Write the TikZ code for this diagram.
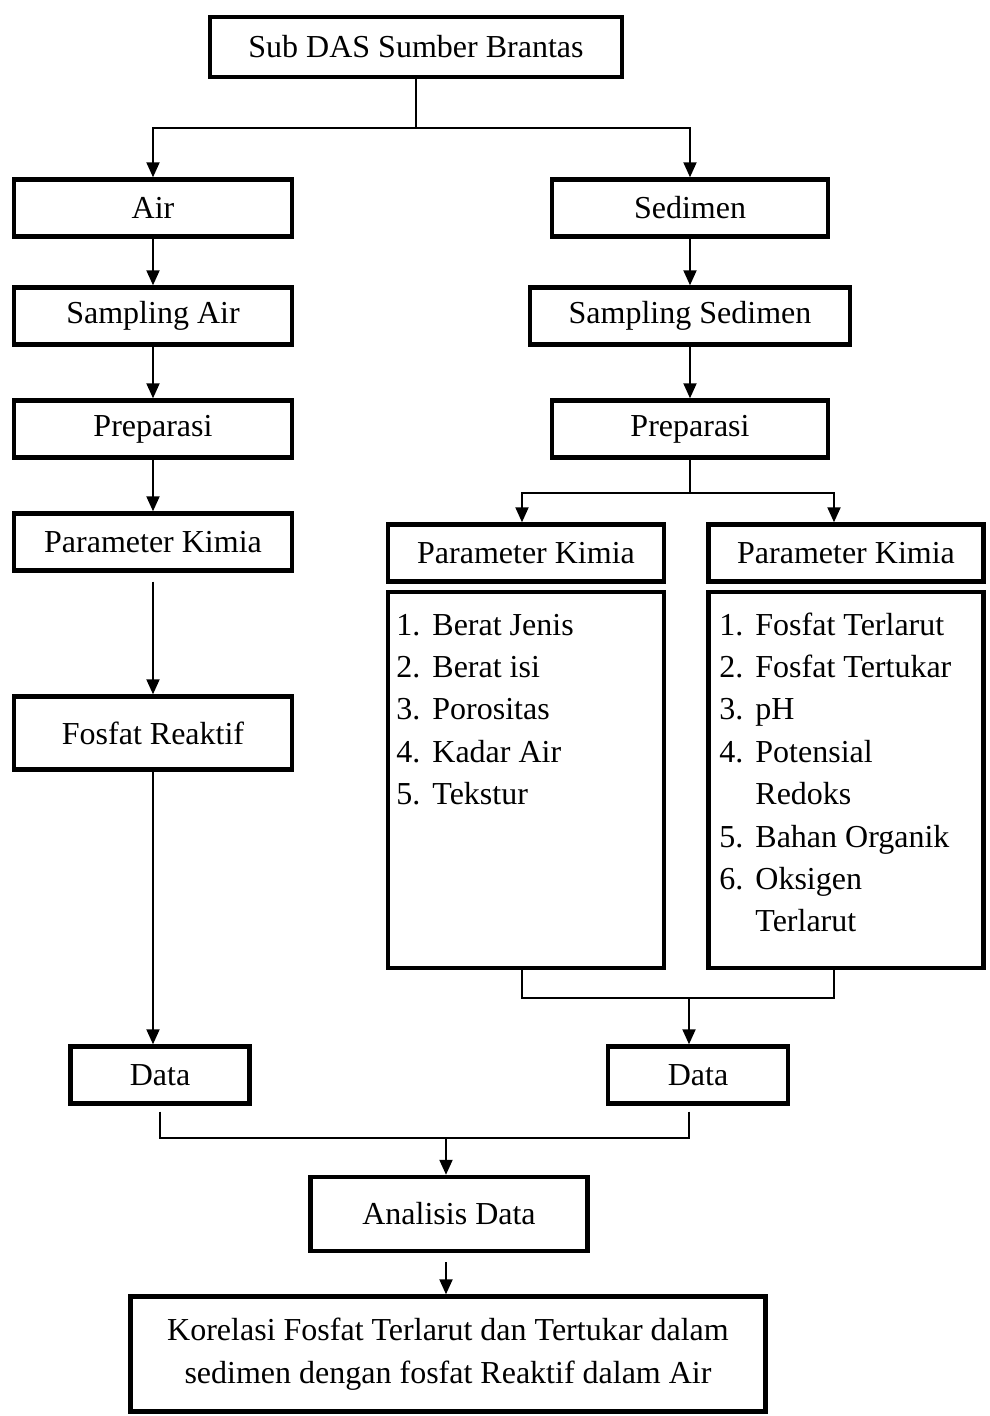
\documentclass[tikz,border=0pt]{standalone}
\usepackage{fontspec}
\setmainfont{Liberation Serif}
\usetikzlibrary{positioning, arrows.meta}

\begin{document}
\begin{tikzpicture}[x=0.5pt, y=-0.5pt, font=\fontsize{16}{21.2}\selectfont,
  proc/.style={rectangle, draw, line width=2.2pt, minimum width=139pt,
               minimum height=28.5pt, inner sep=2pt, align=center},
  flow/.style={-{Triangle[length=7.5pt, width=6.5pt]}, line width=1pt},
  link/.style={line width=1pt},
]
  \useasboundingbox (0,0) rectangle (989,1416);

  \node[proc, minimum width=206pt, minimum height=30pt] (das) at (416,47) {Sub DAS Sumber Brantas};
  \node[proc] (air) at (153,208) {Air};
  \node[proc, minimum width=138pt] (sed) at (690,208) {Sedimen};
  % kolom air
  \node[proc] (sampair) at (153,316) {Sampling Air};
  \node[proc] (prepair) at (153,429) {Preparasi};
  \node[proc] (kimair) at (153,542) {Parameter Kimia};
  \node[proc, minimum height=36.5pt] (fosfat) at (153,733) {Fosfat Reaktif};
  \node[proc, minimum width=89.5pt] (dataair) at (160,1075) {Data};
  % kolom sedimen
  \node[proc, minimum width=160pt] (sampsed) at (690,316) {Sampling Sedimen};
  \node[proc, minimum width=138pt] (prepsed) at (690,429) {Preparasi};
  \node[proc, minimum width=138pt] (kimfis) at (526,553) {Parameter Kimia};
  \node[proc, minimum width=137.5pt] (kimsed) at (846,553) {Parameter Kimia};
  \node[proc, minimum width=138pt, minimum height=188pt] (listfis) at (526,780) {};
  \node[proc, minimum width=137.5pt, minimum height=188pt] (listsed) at (846,780) {};
  \node[anchor=base west, inner sep=0pt] (itemfis) at (396,635)
    {\begin{tabular}[t]{@{}l@{\hspace{6pt}}l@{}}
      1. & Berat Jenis\\ 2. & Berat isi\\ 3. & Porositas\\ 4. & Kadar Air\\ 5. & Tekstur
     \end{tabular}};
  \node[anchor=base west, inner sep=0pt] (itemsed) at (719,635)
    {\begin{tabular}[t]{@{}l@{\hspace{6pt}}l@{}}
      1. & Fosfat Terlarut\\ 2. & Fosfat Tertukar\\ 3. & pH\\ 4. & Potensial\\ & Redoks\\
      5. & Bahan Organik\\ 6. & Oksigen\\ & Terlarut
     \end{tabular}};
  \node[proc, minimum width=90pt] (datased) at (698,1075) {Data};
  % analisis
  \node[proc, minimum width=138.5pt, minimum height=37pt] (analisis) at (449,1214) {Analisis Data};
  \node[proc, minimum width=317.5pt, minimum height=57.5pt] (korelasi) at (448,1354)
    {Korelasi Fosfat Terlarut dan Tertukar dalam\\ sedimen dengan fosfat Reaktif dalam Air};

  \coordinate (j1) at (416,128);
  \coordinate (j2) at (690,493);
  \coordinate (j3) at (689,998);
  \coordinate (j4) at (446,1138);

  \draw[link] (das) -- (j1);
  \draw[flow] (j1) -| (air);
  \draw[flow] (j1) -| (sed);
  \draw[flow] (air) -- (sampair);
  \draw[flow] (sampair) -- (prepair);
  \draw[flow] (prepair) -- (kimair);
  \draw[flow, shorten <=4.5pt] (kimair) -- (fosfat);
  \draw[flow] (fosfat.south) -- (fosfat.south |- dataair.north);
  \draw[flow] (sed) -- (sampsed);
  \draw[flow] (sampsed) -- (prepsed);
  \draw[link] (prepsed) -- (j2);
  \draw[flow] (j2) -| ([xshift=-2pt]kimfis.north);
  \draw[flow] (j2) -| ([xshift=-6pt]kimsed.north);
  \draw[link] ([xshift=-2pt]listfis.south) |- (j3);
  \draw[link] ([xshift=-6pt]listsed.south) |- (j3);
  \draw[flow] (j3) -- (j3 |- datased.north);
  \draw[link, shorten <=3pt] (dataair.south) |- (j4);
  \draw[link, shorten <=3pt] ([xshift=-4.5pt]datased.south) |- (j4);
  \draw[flow] (j4) -- (j4 |- analisis.north);
  \draw[flow, shorten <=4.5pt] (analisis.south -| j4) -- (j4 |- korelasi.north);
\end{tikzpicture}
\end{document}
